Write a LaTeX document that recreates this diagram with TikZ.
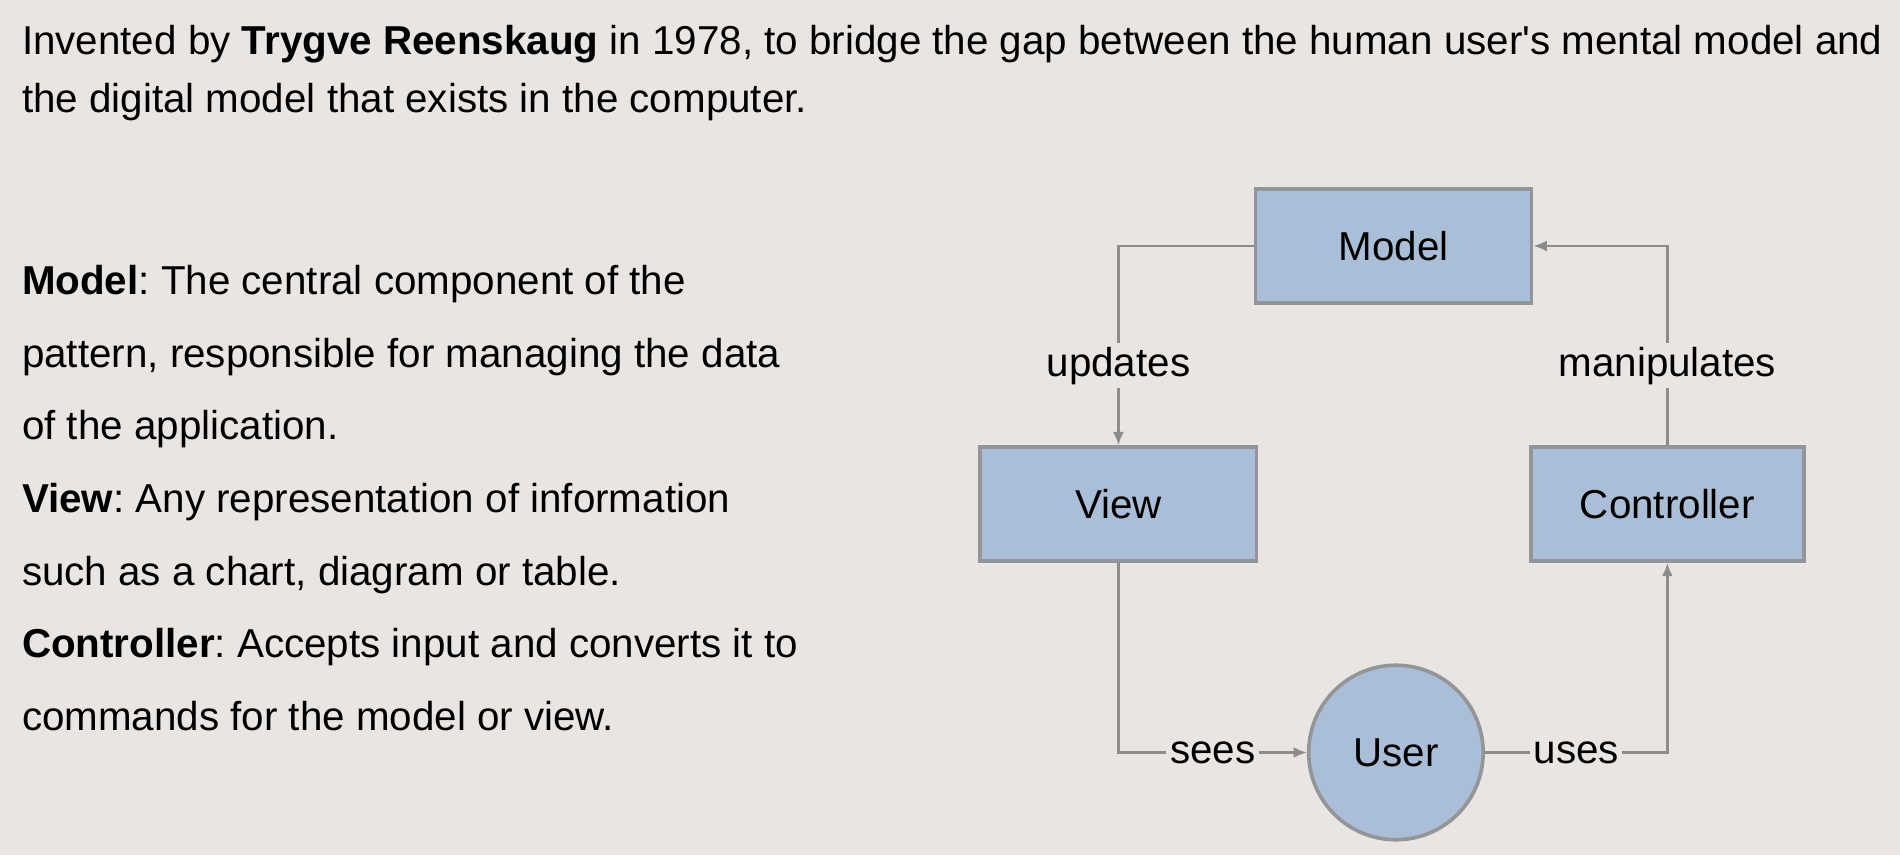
\documentclass[tikz,border=0pt]{standalone}
\usepackage{fontspec}
\setmainfont{Liberation Sans}
\usepackage{xcolor}
\usetikzlibrary{arrows.meta}
\usetikzlibrary{positioning}

\definecolor{slidebg}{HTML}{E8E5E3}
\definecolor{boxfill}{HTML}{AABFD7}
\definecolor{boxline}{HTML}{939599}
\definecolor{wire}{HTML}{8C8C8C}

\begin{document}
\frenchspacing
\begin{tikzpicture}[x=1pt,y=-1pt,font=\fontsize{33.3pt}{40pt}\selectfont,
	every path/.style={>={Latex[length=11pt,width=9pt]}},
	block/.style={rectangle,draw=boxline,fill=boxfill,line width=3pt,minimum width=228pt,minimum height=94pt},
	wirelbl/.style={fill=slidebg,inner sep=3pt},
	flow/.style={draw=wire,line width=1.9pt,->}]
		% slide background
		\fill[slidebg] (0,0) rectangle (1568,706);
		\useasboundingbox (0,0) rectangle (1568,706);
		
		% heading
		\node[anchor=base west,inner sep=0pt] (head1) at (18,45) {Invented by \textbf{Trygve Reenskaug} in 1978, to bridge the gap between the human user\textquotesingle s mental model and};
		\node[anchor=base west,inner sep=0pt] (head2) at (18,93) {the digital model that exists in the computer.};
		
		% description lines
		\foreach \txt [count=\i] in {{\textbf{Model}: The central component of the},
			{pattern, responsible for managing the data},
			{of the application.},
			{\textbf{View}: Any representation of information},
			{such as a chart, diagram or table.},
			{\textbf{Controller}: Accepts input and converts it to},
			{commands for the model or view.}}
		{
			\node[anchor=base west,inner sep=0pt] (desc-\i) at (18,183 + 60*\i) {\txt};
		}
		
		% draw the four parts
		\node[block] (model) at (1150,203) {Model};
		\node[block] (view) at (923,416) {View};
		\node[block,minimum width=225pt] (controller) at (1376,416) {Controller};
		\node[circle,draw=boxline,fill=boxfill,line width=3pt,minimum size=144pt] (user) at (1152,621) {User};
		
		% draw connectors with labels
		\draw[flow] (model.west) -| node[wirelbl,pos=0.80] {updates} (view.north);
		\draw[flow] (controller.north) |- node[wirelbl,pos=0.20] {manipulates} (model.east);
		\draw[flow] (view.south) |- node[wirelbl,pos=0.75] {sees} (user.west);
		\draw[flow] (user.east) -| node[wirelbl,pos=0.25] {uses} (controller.south);
	\end{tikzpicture}
\end{document}
